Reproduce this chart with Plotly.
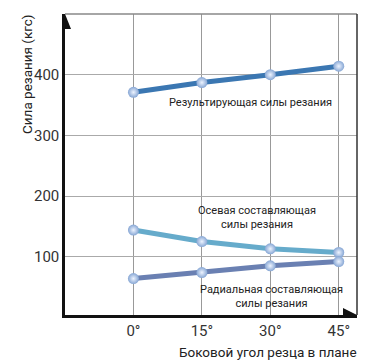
import plotly.graph_objects as go

angles = [0, 15, 30, 45]
tick_labels = ["0°", "15°", "30°", "45°"]
resultant = [371, 387, 400, 414]
axial = [144, 125, 113, 107]
radial = [64, 74, 85, 92]
y_ticks = [100, 200, 300, 400]

FONT = "Roboto, sans-serif"
OFF = 8  # browser default body margin
W, H = 372 - OFF, 360 - OFF
L, R, T, B = 65 - OFF, 15, 14 - OFF, 45
pw, ph = W - L - R, H - T - B

def px(x):
    return (x - OFF - L) / pw

def py(y):
    return (H - B - (y - OFF)) / ph

fig = go.Figure()
series = [
    (resultant, "#3b77b2"),
    (axial, "#66abcb"),
    (radial, "#6a80b2"),
]
for vals, col in series:
    fig.add_trace(go.Scatter(
        x=angles, y=vals, mode="lines+markers",
        line=dict(color=col, width=5),
        marker=dict(size=11, color="#86a6d4",
                    gradient=dict(type="radial", color="#eef4ff"),
                    line=dict(width=0)),
        showlegend=False, hoverinfo="skip"))

fig.update_layout(
    width=W, height=H, autosize=False,
    margin=dict(l=L, r=R, t=T, b=B),
    paper_bgcolor="white", plot_bgcolor="white",
    font=dict(family=FONT, size=14, color="#333"),
    xaxis=dict(range=[-15, 49], tickvals=angles, ticktext=tick_labels,
               showgrid=True, gridcolor="#999", gridwidth=1,
               showline=True, linecolor="#111", linewidth=2.5,
               zeroline=False, ticks="", tickfont=dict(size=15, family=FONT, color="#333")),
    yaxis=dict(range=[4, 500], tickvals=y_ticks,
               showgrid=True, gridcolor="#aaa", gridwidth=1,
               showline=True, linecolor="#111", linewidth=2.5,
               zeroline=False, ticks="", tickfont=dict(size=15, family=FONT, color="#333")),
)

# borders top and right
fig.add_shape(type="line", xref="paper", yref="paper", x0=0, x1=1, y0=1, y1=1,
              line=dict(color="#888", width=1.5))
fig.add_shape(type="line", xref="paper", yref="paper", x0=1, x1=1, y0=0, y1=1,
              line=dict(color="#333", width=1.5))
# arrowheads
fig.add_shape(type="path", xref="paper", yref="paper",
              path=f"M {px(65)} {py(14)} L {px(71)} {py(29)} L {px(65)} {py(29)} Z",
              fillcolor="#111", line=dict(width=0))
fig.add_shape(type="path", xref="paper", yref="paper",
              path=f"M {px(343)} {py(308)} L {px(357)} {py(315)} L {px(343)} {py(315)} Z",
              fillcolor="#111", line=dict(width=0))

ann_font = dict(family=FONT, size=11, color="#222")
fig.add_annotation(x=px(250), y=py(102), xref="paper", yref="paper",
                   xanchor="center", yanchor="middle",
                   text="Результирующая силы резания", showarrow=False, font=ann_font)
fig.add_annotation(x=px(256.5), y=py(217.5), xref="paper", yref="paper",
                   xanchor="center", yanchor="middle",
                   text="Осевая составляющая<br>силы резания", showarrow=False,
                   font=ann_font)
fig.add_annotation(x=px(271.5), y=py(296.5), xref="paper", yref="paper",
                   xanchor="center", yanchor="middle",
                   text="Радиальная составляющая<br>силы резания", showarrow=False,
                   font=ann_font)

fig.add_annotation(x=px(27), y=py(12), xref="paper", yref="paper", textangle=-90,
                   xanchor="center", yanchor="top",
                   text="Сила резания (кгс)", showarrow=False,
                   font=dict(family=FONT, size=13.5, color="#222"))
fig.add_annotation(x=px(359), y=py(352), xref="paper", yref="paper",
                   xanchor="right", yanchor="middle",
                   text="Боковой угол резца в плане", showarrow=False,
                   font=dict(family=FONT, size=13.5, color="#222"))

fig.write_html("out.html")
